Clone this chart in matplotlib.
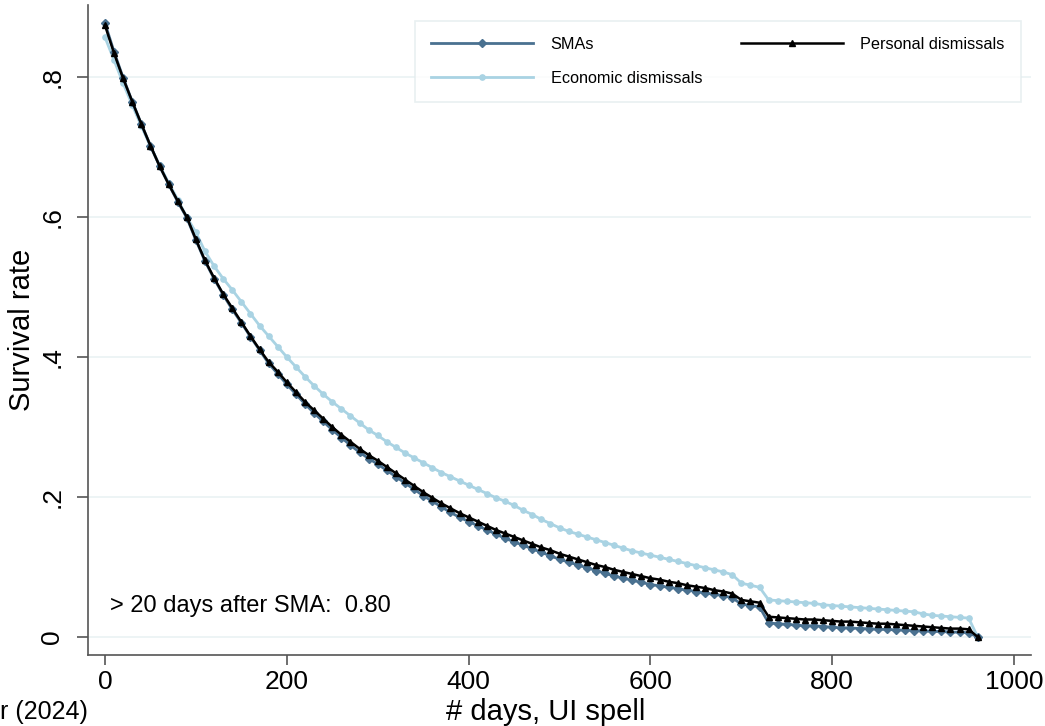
import matplotlib
matplotlib.use("Agg")
import matplotlib.pyplot as plt

plt.rcParams["font.family"] = ["Liberation Sans", "DejaVu Sans"]

# days of UI spell, one point every 10 days
days = list(range(0, 970, 10))

# survival rates
smas = [0.877, 0.836, 0.799, 0.765, 0.733, 0.702, 0.673, 0.647, 0.622, 0.599,
        0.567, 0.537, 0.512, 0.489, 0.468, 0.449, 0.429, 0.410, 0.391, 0.376,
        0.361, 0.347, 0.333, 0.320, 0.308, 0.296, 0.285, 0.274, 0.264, 0.255,
        0.247, 0.238, 0.229, 0.220, 0.211, 0.202, 0.194, 0.186, 0.178, 0.171,
        0.165, 0.159, 0.153, 0.147, 0.141, 0.136, 0.131, 0.126, 0.121, 0.116,
        0.111, 0.107, 0.103, 0.099, 0.095, 0.091, 0.087, 0.084, 0.081, 0.078,
        0.075, 0.073, 0.071, 0.069, 0.067, 0.065, 0.063, 0.061, 0.059, 0.056,
        0.047, 0.045, 0.043, 0.020, 0.019, 0.018, 0.017, 0.016, 0.016, 0.015,
        0.014, 0.013, 0.013, 0.012, 0.012, 0.011, 0.011, 0.010, 0.010, 0.009,
        0.009, 0.008, 0.008, 0.007, 0.007, 0.006, 0.000]

personal = [0.874, 0.834, 0.798, 0.765, 0.733, 0.702, 0.673, 0.647, 0.623, 0.600,
            0.568, 0.538, 0.513, 0.490, 0.470, 0.450, 0.430, 0.411, 0.393, 0.379,
            0.364, 0.350, 0.336, 0.324, 0.312, 0.300, 0.289, 0.279, 0.269, 0.260,
            0.252, 0.243, 0.234, 0.225, 0.216, 0.207, 0.199, 0.191, 0.184, 0.177,
            0.171, 0.165, 0.159, 0.153, 0.148, 0.143, 0.138, 0.133, 0.128, 0.124,
            0.119, 0.115, 0.111, 0.107, 0.103, 0.100, 0.096, 0.093, 0.090, 0.087,
            0.084, 0.082, 0.079, 0.077, 0.074, 0.072, 0.070, 0.067, 0.065, 0.062,
            0.053, 0.051, 0.049, 0.029, 0.028, 0.027, 0.026, 0.025, 0.025, 0.024,
            0.023, 0.022, 0.022, 0.021, 0.020, 0.019, 0.019, 0.018, 0.017, 0.016,
            0.015, 0.014, 0.013, 0.012, 0.012, 0.011, 0.000]

economic = [0.857, 0.824, 0.791, 0.760, 0.730, 0.701, 0.674, 0.649, 0.625, 0.600,
            0.578, 0.551, 0.530, 0.512, 0.496, 0.479, 0.462, 0.445, 0.430, 0.415,
            0.400, 0.386, 0.372, 0.359, 0.347, 0.336, 0.326, 0.316, 0.306, 0.296,
            0.288, 0.279, 0.271, 0.263, 0.256, 0.249, 0.242, 0.235, 0.229, 0.223,
            0.217, 0.211, 0.205, 0.199, 0.194, 0.188, 0.181, 0.175, 0.168, 0.162,
            0.156, 0.151, 0.147, 0.143, 0.139, 0.135, 0.131, 0.127, 0.123, 0.120,
            0.117, 0.114, 0.111, 0.108, 0.105, 0.102, 0.099, 0.096, 0.093, 0.089,
            0.077, 0.074, 0.071, 0.053, 0.052, 0.051, 0.050, 0.049, 0.048, 0.046,
            0.045, 0.044, 0.043, 0.042, 0.041, 0.040, 0.039, 0.038, 0.037, 0.036,
            0.033, 0.031, 0.030, 0.029, 0.028, 0.027, 0.000]

xticks = [0, 200, 400, 600, 800, 1000]
yticks = [0, 0.2, 0.4, 0.6, 0.8]
ytick_labels = ["0", ".2", ".4", ".6", ".8"]

fig = plt.figure(figsize=(10.45, 7.26), dpi=100)
ax = fig.add_axes([0.0842, 0.0978, 0.9025, 0.8953])

ax.plot(days, economic, color="#a9d3e3", lw=2, marker="o", ms=3.8,
        label="Economic dismissals", zorder=3)
ax.plot(days, smas, color="#4a7190", lw=2, marker="D", ms=3.8,
        label="SMAs", zorder=4)
ax.plot(days, personal, color="black", lw=1.8, marker="^", ms=4.3,
        label="Personal dismissals", zorder=5)

ax.set_xlim(-18.7, 1018.7)
ax.set_ylim(-0.0257, 0.903)

for y in yticks:
    ax.axhline(y, color="#eaf2f4", lw=1.2, zorder=1)

ax.set_xticks(xticks)
ax.set_yticks(yticks)
ax.set_yticklabels(ytick_labels, rotation=90, va="center")
ax.tick_params(axis="both", labelsize=19, width=1.2, color="#555555")
ax.tick_params(axis="x", length=7, pad=4)
ax.tick_params(axis="y", length=8, pad=9)

for s in ["top", "right"]:
    ax.spines[s].set_visible(False)
for s in ["left", "bottom"]:
    ax.spines[s].set_color("#555555")
    ax.spines[s].set_linewidth(1.2)

ax.set_xlabel("# days, UI spell", fontsize=21)
ax.xaxis.set_label_coords(0.485, -0.066)
ax.set_ylabel("Survival rate", fontsize=21, labelpad=3)

ax.text(5.5, 0.044, "> 20 days after SMA:  0.80", fontsize=17, va="center")

handles, labels = ax.get_legend_handles_labels()
order = [1, 0, 2]
leg = ax.legend([handles[i] for i in order], [labels[i] for i in order],
                ncol=2, loc="upper right", bbox_to_anchor=(0.998, 0.988),
                fontsize=11.7, handlelength=6.3, columnspacing=2.4,
                handletextpad=1.05, borderpad=1.0, labelspacing=1.15,
                frameon=True, fancybox=False, edgecolor="#e3ecee")
leg.get_frame().set_linewidth(1.2)

fig.text(0.0, 0.003, "r (2024)", fontsize=18, ha="left", va="bottom")

fig.savefig("out.png", dpi=100)
